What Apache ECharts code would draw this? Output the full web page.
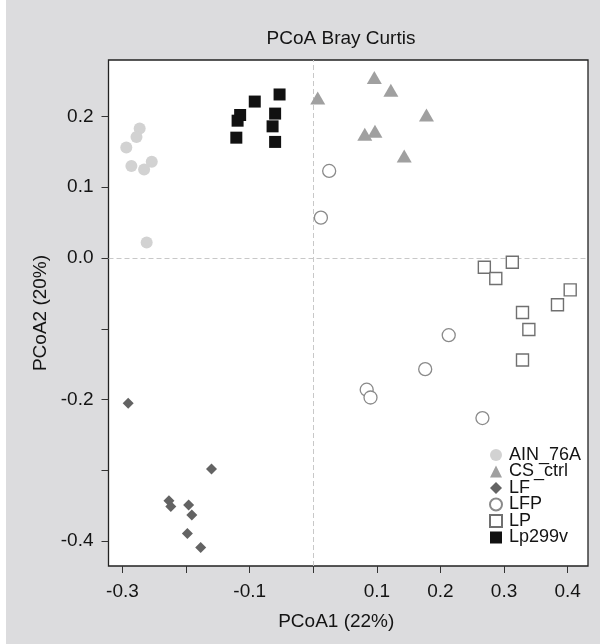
<!DOCTYPE html>
<html><head><meta charset="utf-8">
<script src="https://cdn.jsdelivr.net/npm/echarts@6/dist/echarts.min.js"></script>
<style>
html,body{margin:0;padding:0;background:#fff}
#c{width:600px;height:644px;background:linear-gradient(to right,#fff 6px,#dcdcde 6px)}
</style>
</head><body><div id="c"></div>
<script>
// ---- data ----
const groups = ['AIN_76A','CS_ctrl','LF','LFP','LP','Lp299v'];
const ain76a = [[-0.273,0.183],[-0.278,0.171],[-0.294,0.156],[-0.286,0.130],[-0.266,0.125],[-0.254,0.136],[-0.262,0.022]];
const csCtrl = [[0.007,0.226],[0.096,0.255],[0.122,0.237],[0.178,0.202],[0.081,0.175],[0.097,0.179],[0.143,0.144]];
const lf = [[-0.291,-0.205],[-0.160,-0.298],[-0.227,-0.343],[-0.224,-0.351],[-0.196,-0.349],[-0.191,-0.363],[-0.198,-0.389],[-0.177,-0.409]];
const lfp = [[0.025,0.123],[0.012,0.057],[0.213,-0.109],[0.176,-0.157],[0.084,-0.186],[0.090,-0.197],[0.266,-0.226]];
const lp = [[0.269,-0.013],[0.287,-0.029],[0.313,-0.006],[0.404,-0.045],[0.384,-0.066],[0.329,-0.077],[0.339,-0.101],[0.329,-0.144]];
const lp299v = [[-0.115,0.202],[-0.119,0.194],[-0.121,0.170],[-0.092,0.221],[-0.053,0.231],[-0.060,0.204],[-0.064,0.186],[-0.060,0.164]];
const xTicks = [-0.3,-0.2,-0.1,0,0.1,0.2,0.3,0.4];
const xTickLabels = [-0.3,-0.1,0.1,0.2,0.3,0.4];
const yTicks = [-0.4,-0.3,-0.2,-0.1,0,0.1,0.2];
const yTickLabels = [-0.4,-0.2,0,0.1,0.2];

const FONT = "'Liberation Sans', Arial, sans-serif";
const TXT = '#141414';
const chart = echarts.init(document.getElementById('c'));

const styles = [
  {symbol:'circle', size:12, item:{color:'#d2d2d2', opacity:1}},
  {symbol:'triangle', size:[15,13], item:{color:'#a0a0a0', opacity:1}},
  {symbol:'diamond', size:11, item:{color:'#636363', opacity:1}},
  {symbol:'circle', size:13, item:{color:'#ffffff', borderColor:'#8a8a8a', borderWidth:1.3, opacity:1}},
  {symbol:'rect', size:12, item:{color:'#ffffff', borderColor:'#707070', borderWidth:1.4, opacity:1}},
  {symbol:'rect', size:12, item:{color:'#111111', opacity:1}}
];
const datasets = [ain76a, csCtrl, lf, lfp, lp, lp299v];

const series = groups.map((g,i)=>({
  name:g, type:'scatter', data:datasets[i], clip:false,
  symbol:styles[i].symbol, symbolSize:styles[i].size,
  itemStyle:styles[i].item, z:3
}));
series[0].markLine = {
  silent:true, symbol:'none', label:{show:false}, z:1,
  lineStyle:{type:[5,3], color:'#c8c8c8', width:1},
  data:[{xAxis:0},{yAxis:0}]
};

chart.setOption({
  backgroundColor:'transparent',
  animation:false,
  textStyle:{fontFamily:FONT},
  title:{text:'PCoA Bray Curtis', left:336, top:24, textAlign:'center',
    textStyle:{fontSize:19, fontWeight:'normal', color:TXT, fontFamily:FONT}},
  grid:{left:108.5, right:12, top:60, bottom:78, show:true, backgroundColor:'#fff',
    borderColor:'#222', borderWidth:1.3},
  legend:{orient:'vertical', left:484, top:441, itemWidth:12, itemHeight:12, itemGap:-1.5,
    textStyle:{fontSize:18, color:TXT, fontFamily:FONT, padding:[0,0,0,2]},
    data:groups.map((g,i)=>({name:g, icon:styles[i].symbol}))},
  xAxis:{type:'value', min:-0.322, max:0.432,
    axisLine:{show:false, onZero:false}, splitLine:{show:false},
    axisTick:{show:true, length:7, customValues:xTicks, lineStyle:{color:'#333'}},
    axisLabel:{customValues:xTickLabels, formatter:v=>v.toFixed(1), fontSize:19, color:TXT, margin:16, fontFamily:FONT},
    name:'PCoA1 (22%)', nameLocation:'middle', nameGap:46,
    nameTextStyle:{fontSize:19, color:TXT, padding:[0,24,0,0], fontFamily:FONT}},
  yAxis:{type:'value', min:-0.435, max:0.2797,
    axisLine:{show:false, onZero:false}, splitLine:{show:false},
    axisTick:{show:true, length:7, customValues:yTicks, lineStyle:{color:'#333'}},
    axisLabel:{customValues:yTickLabels, formatter:v=>v.toFixed(1), fontSize:19, color:TXT, margin:15, fontFamily:FONT},
    name:'PCoA2 (20%)', nameLocation:'middle', nameGap:58,
    nameTextStyle:{fontSize:19, color:TXT, fontFamily:FONT}},
  series:series
});
</script>
</body></html>
